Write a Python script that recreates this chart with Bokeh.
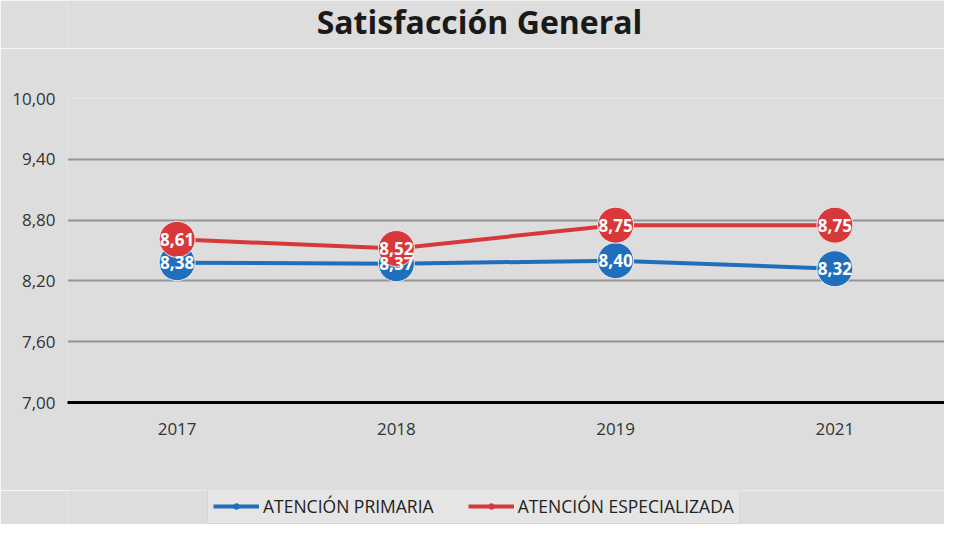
from bokeh.plotting import figure
from bokeh.layouts import column
from bokeh.models import (ColumnDataSource, Legend, LegendItem, FixedTicker,
                          CustomJSTickFormatter, Range1d, Label)
from bokeh.core.properties import value
from bokeh.embed import file_html
from bokeh.resources import INLINE

years = ["2017", "2018", "2019", "2021"]
primaria = [8.38, 8.37, 8.40, 8.32]
especializada = [8.61, 8.52, 8.75, 8.75]
y_ticks = [7.0, 7.6, 8.2, 8.8, 9.4, 10.0]
series_names = ["ATENCIÓN PRIMARIA", "ATENCIÓN ESPECIALIZADA"]
title_text = "Satisfacción General"

BLUE = "#1f6fbd"
RED = "#d9383a"
BG = "#dddddd"
W = 944
LEFT = 67
TITLE_H = 48

def fmt(v):
    return f"{v:.2f}".replace(".", ",")

def strip(height):
    f = figure(width=W, height=height, x_range=Range1d(0, 1), y_range=Range1d(0, 1),
               output_backend="svg", toolbar_location=None,
               min_border_left=LEFT, min_border_right=0, min_border_top=0, min_border_bottom=0)
    f.axis.visible = False
    f.grid.grid_line_color = None
    f.outline_line_color = None
    f.background_fill_color = BG
    f.border_fill_color = BG
    return f

# ---- title strip
tf = strip(TITLE_H)
tf.add_layout(Label(x=(479 - LEFT) / (W - LEFT), y=1 - 21 / TITLE_H, text=title_text,
                    text_font="Open Sans", text_font_size="32px", text_font_style="bold",
                    text_color="#1a1a1a", text_align="center", text_baseline="middle"))

# ---- main chart
p = figure(width=W, height=524 - TITLE_H - 34, x_range=years, y_range=(7.0, 10.0),
           output_backend="svg", toolbar_location=None,
           min_border_left=LEFT, min_border_right=0, min_border_top=98 - TITLE_H, min_border_bottom=88)
p.background_fill_color = BG
p.border_fill_color = BG
p.outline_line_color = None

p.yaxis.ticker = FixedTicker(ticks=y_ticks)
p.yaxis.formatter = CustomJSTickFormatter(code="return tick.toFixed(2).replace('.', ',');")
p.yaxis.axis_line_color = None
p.yaxis.major_tick_line_color = None
p.yaxis.minor_tick_line_color = None
p.yaxis.major_label_text_font = "Open Sans"
p.yaxis.major_label_text_font_size = "17px"
p.yaxis.major_label_text_color = "#333333"
p.yaxis.major_label_standoff = 6

p.xaxis.axis_line_color = "#000000"
p.xaxis.axis_line_width = 3
p.xaxis.major_tick_line_color = None
p.xaxis.minor_tick_line_color = None
p.xaxis.major_label_text_font = "Open Sans"
p.xaxis.major_label_text_font_size = "17px"
p.xaxis.major_label_text_color = "#333333"
p.xaxis.major_label_standoff = 14

p.xgrid.grid_line_color = None
p.ygrid.ticker = FixedTicker(ticks=y_ticks[1:])
p.ygrid.grid_line_color = "#949494"
p.ygrid.grid_line_width = 2

src_p = ColumnDataSource(dict(x=years, y=primaria, lab=[fmt(v) for v in primaria]))
src_e = ColumnDataSource(dict(x=years, y=especializada, lab=[fmt(v) for v in especializada]))

p.line("x", "y", source=src_p, line_color=BLUE, line_width=4)
p.scatter("x", "y", source=src_p, size=36, fill_color=BLUE, line_color="#e8e8e8", line_width=1)
p.line("x", "y", source=src_e, line_color=RED, line_width=4)
p.scatter("x", "y", source=src_e, size=36, fill_color=RED, line_color="#e8e8e8", line_width=1)

for src in (src_p, src_e):
    p.text("x", "y", text="lab", source=src, text_color="white", text_font=value("Open Sans"),
           text_font_size="17px", text_font_style="bold", text_align="center", text_baseline="middle")

# ---- legend strip
lg = strip(34)
items = []
for name, col in zip(series_names, (BLUE, RED)):
    # off-range sample points: only the legend swatch is visible
    r1 = lg.line(x=[-3, -2], y=[-3, -2], line_color=col, line_width=4)
    r2 = lg.scatter(x=[-3], y=[-3], size=9, fill_color=col, line_color=col)
    items.append(LegendItem(label=name, renderers=[r1, r2]))

legend = Legend(items=items, orientation="horizontal", location=(140, 0),
                label_text_font="Open Sans", label_text_font_size="17.5px", label_text_color="#222222",
                glyph_width=46, glyph_height=14, spacing=34, padding=5, margin=0,
                background_fill_color="#e5e5e5", background_fill_alpha=1.0,
                border_line_color="#c8c8c8", label_standoff=4)
lg.add_layout(legend, "center")

layout = column(tf, p, lg, spacing=0)
open("out.html", "w").write(file_html(layout, INLINE))
